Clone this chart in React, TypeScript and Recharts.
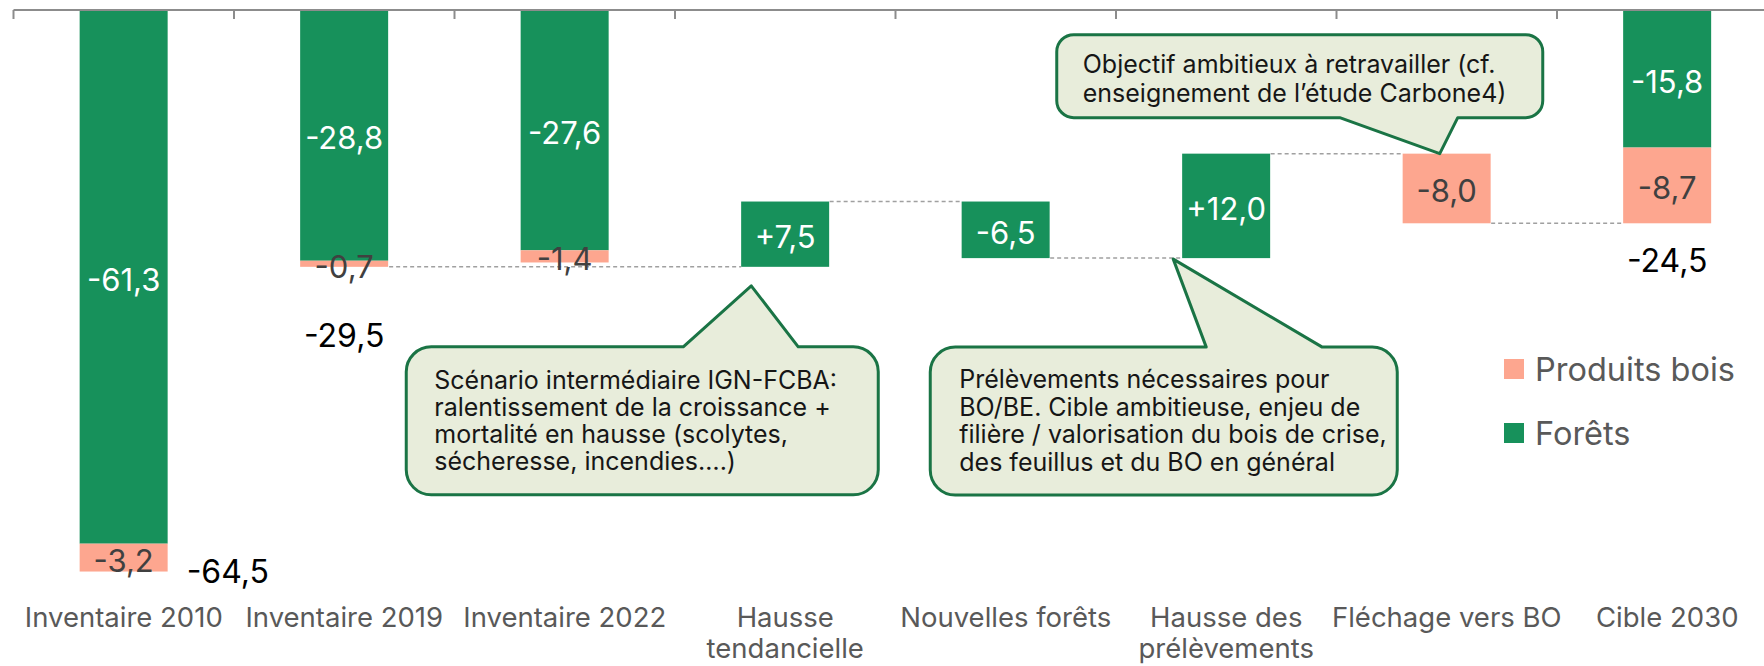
import React from 'react';
import { BarChart, Bar, XAxis, YAxis, LabelList, ReferenceDot, Legend } from 'recharts';

// ---------- DATA ----------
const categories = [
  'Inventaire 2010',
  'Inventaire 2019',
  'Inventaire 2022',
  'Hausse tendancielle',
  'Nouvelles forêts',
  'Hausse des prélèvements',
  'Fléchage vers BO',
  'Cible 2030',
];
const tickLabels = [
  ['Inventaire 2010'],
  ['Inventaire 2019'],
  ['Inventaire 2022'],
  ['Hausse', 'tendancielle'],
  ['Nouvelles forêts'],
  ['Hausse des', 'prélèvements'],
  ['Fléchage vers BO'],
  ['Cible 2030'],
];
// 'total' = column from zero, 'delta' = floating change
const kinds = ['total', 'total', 'total', 'delta', 'delta', 'delta', 'delta', 'total'];
const foretsValues: (number | null)[] = [-61.3, -28.8, -27.6, 7.5, -6.5, 12.0, null, -15.8];
const produitsValues: (number | null)[] = [-3.2, -0.7, -1.4, null, null, null, -8.0, -8.7];
const totalValues: (number | null)[] = [-64.5, -29.5, null, null, null, null, null, -24.5];
const waterfallStart = 'Inventaire 2019';

const calloutTexts = [
  {
    category: 'Hausse tendancielle',
    lines: [
      'Scénario intermédiaire IGN-FCBA:',
      'ralentissement de la croissance +',
      'mortalité en hausse (scolytes,',
      'sécheresse, incendies….)',
    ],
  },
  {
    category: 'Hausse des prélèvements',
    lines: [
      'Prélèvements nécessaires pour',
      'BO/BE. Cible ambitieuse, enjeu de',
      'filière / valorisation du bois de crise,',
      'des feuillus et du BO en général',
    ],
  },
  {
    category: 'Fléchage vers BO',
    lines: ['Objectif ambitieux à retravailler (cf.', 'enseignement de l’étude Carbone4)'],
  },
];

// ---------- STYLE ----------
const FONT = 'Inter, "Noto Sans", sans-serif';
const GREEN = '#17915B';
const PINK = '#FDA68F';
const AXIS_GRAY = '#8C8C8C';
const CALLOUT_STROKE = '#1A7445';
const CALLOUT_FILL = '#E8EDDB';
const BAR_GAP = 0.3;
const BAR_FRACTION = 1 - 2 * BAR_GAP;

const round1 = (v: number) => Math.round(v * 10) / 10;
const fmt = (v: number, signed: boolean) => {
  const s = Math.abs(v).toFixed(1).replace('.', ',');
  return v < 0 ? '-' + s : signed ? '+' + s : s;
};

// ---------- build waterfall table ----------
const startIdx = categories.indexOf(waterfallStart);
let running = round1((foretsValues[startIdx] ?? 0) + (produitsValues[startIdx] ?? 0));
let srcIdx = startIdx;
const chartData = categories.map((name, i) => {
  const f = foretsValues[i];
  const p = produitsValues[i];
  const t = totalValues[i];
  if (kinds[i] === 'total') {
    const hasConn = i > startIdx && srcIdx !== startIdx;
    return {
      name,
      idx: i,
      base: 0,
      forets: f ?? 0,
      produits: p ?? 0,
      foretsLabel: f != null ? fmt(f, false) : null,
      produitsLabel: p != null ? fmt(p, false) : null,
      totalLabel: t != null ? fmt(t, false) : null,
      from: 0,
      connFrom: hasConn ? srcIdx : null,
      connAt: 'bottom',
      connOwner: p != null ? 'produits' : 'forets',
    };
  }
  const delta = (f ?? 0) + (p ?? 0);
  const from = running;
  const to = round1(running + delta);
  const row = {
    name,
    idx: i,
    base: Math.max(from, to),
    forets: f != null ? -Math.abs(f) : 0,
    produits: p != null ? -Math.abs(p) : 0,
    foretsLabel: f != null ? fmt(f, true) : null,
    produitsLabel: p != null ? fmt(p, true) : null,
    totalLabel: null,
    from,
    connFrom: srcIdx as number | null,
    connAt: delta > 0 ? 'bottom' : 'top',
    connOwner: f != null ? 'forets' : 'produits',
  };
  running = to;
  srcIdx = i;
  return row;
});

// ---------- bar shape with dashed connector ----------
const makeBarShape = (series: string) => (props: any) => {
  const { x, y, width, height, payload, fill } = props;
  let top = Number(y);
  let h = Number(height);
  if (h < 0) {
    top = top + h;
    h = -h;
  }
  let conn = null;
  if (payload && payload.connOwner === series && payload.connFrom != null && h > 0) {
    const band = width / BAR_FRACTION;
    const levelY = payload.connAt === 'top' ? top : top + h;
    const x1 = x - (payload.idx - payload.connFrom) * band + width;
    conn = (
      <line x1={x1} x2={x} y1={levelY} y2={levelY} stroke="#A0A0A0" strokeWidth={1.5} strokeDasharray="4 3" />
    );
  }
  return (
    <g>
      {h > 0 && <rect x={x} y={top} width={width} height={h} fill={fill} />}
      {conn}
    </g>
  );
};

// ---------- label renderers ----------
const norm = (p: any) => {
  const vb = p.viewBox && p.viewBox.width != null ? p.viewBox : p;
  let x = Number(vb.x), y = Number(vb.y), width = Number(vb.width), height = Number(vb.height);
  if (height < 0) {
    y = y + height;
    height = -height;
  }
  return { x, y, width, height };
};

const segLabel = (color: string) => (props: any) => {
  const { value } = props;
  if (value == null || value === '') return null;
  const { x, y, width, height } = norm(props);
  return (
    <text x={x + width / 2} y={y + height / 2 + 14} textAnchor="middle" fill={color} fontSize={31} fontFamily={FONT}>
      {value}
    </text>
  );
};

const TOTAL_LABEL_PLACEMENT: Record<string, { side: 'right' | 'below'; gap: number }> = {
  'Inventaire 2010': { side: 'right', gap: 19 },
  'Inventaire 2019': { side: 'below', gap: 80 },
  'Cible 2030': { side: 'below', gap: 49 },
};

const totalLabel = (props: any) => {
  const { value } = props;
  if (value == null || value === '') return null;
  let idx = props.index;
  if (idx == null) idx = chartData.findIndex((d) => d.totalLabel === value);
  const place = TOTAL_LABEL_PLACEMENT[categories[idx]] ?? { side: 'below', gap: 50 };
  const { x, y, width, height } = norm(props);
  const bottom = y + height;
  if (place.side === 'right') {
    return (
      <text x={x + width + place.gap} y={bottom + 11} textAnchor="start" fill="#000" fontSize={32} fontFamily={FONT}>
        {value}
      </text>
    );
  }
  return (
    <text x={x + width / 2} y={bottom + place.gap} textAnchor="middle" fill="#000" fontSize={32} fontFamily={FONT}>
      {value}
    </text>
  );
};

const CategoryTick = (props: any) => {
  const { x, y, payload } = props;
  const idx = categories.indexOf(payload.value);
  const lines = tickLabels[idx] ?? [String(payload.value)];
  return (
    <g>
      {lines.map((l, k) => (
        <text key={k} x={x} y={y + 25 + k * 31} textAnchor="middle" fill="#595959" fontSize={27.5} fontFamily={FONT}>
          {l}
        </text>
      ))}
    </g>
  );
};

// tick marks on category boundaries (top axis)
const BoundaryTick = (props: any) => {
  const { x, y, payload, index } = props;
  const half = payload && payload.offset != null ? payload.offset : Number(props.width) / categories.length / 2;
  const last = index === categories.length - 1;
  return (
    <g>
      <line x1={x - half} x2={x - half} y1={y} y2={y + 9} stroke={AXIS_GRAY} strokeWidth={2} />
      {last && <line x1={x + half} x2={x + half} y1={y} y2={y + 9} stroke={AXIS_GRAY} strokeWidth={2} />}
    </g>
  );
};

// ---------- callouts ----------
type CalloutLayout = {
  l: number; r: number; t: number; b: number; rad: number;
  side: 'top' | 'bottom'; p1: number; p2: number; ax: number; ay: number;
  tx: number; ty: number; lh: number; fs: number;
};
const CALLOUT_LAYOUT: CalloutLayout[] = [
  { l: -379, r: 93, t: 80, b: 228, rad: 25, side: 'top', p1: -102, p2: 13, ax: -34, ay: 19, tx: 28, ty: 42, lh: 27, fs: 25 },
  { l: -296, r: 171, t: 89, b: 237, rad: 25, side: 'top', p1: -20, p2: 96, ax: -53, ay: 1, tx: 29, ty: 41, lh: 27.5, fs: 25 },
  { l: -390, r: 96, t: -119, b: -36, rad: 17, side: 'bottom', p1: -107, p2: 11, ax: -7, ay: 0, tx: 26, ty: 38, lh: 29, fs: 25 },
];

const calloutPath = (L: number, T: number, R: number, B: number, rad: number, side: string, px1: number, px2: number, ax: number, ay: number) => {
  let d = `M ${L + rad} ${T}`;
  if (side === 'top') d += ` L ${px1} ${T} L ${ax} ${ay} L ${px2} ${T}`;
  d += ` L ${R - rad} ${T} A ${rad} ${rad} 0 0 1 ${R} ${T + rad} L ${R} ${B - rad} A ${rad} ${rad} 0 0 1 ${R - rad} ${B}`;
  if (side === 'bottom') d += ` L ${px2} ${B} L ${ax} ${ay} L ${px1} ${B}`;
  d += ` L ${L + rad} ${B} A ${rad} ${rad} 0 0 1 ${L} ${B - rad} L ${L} ${T + rad} A ${rad} ${rad} 0 0 1 ${L + rad} ${T} Z`;
  return d;
};

const makeCalloutShape = (ci: number) => (props: any) => {
  const cx = Number(props.cx);
  const cy = Number(props.cy);
  const c = CALLOUT_LAYOUT[ci];
  const lines = calloutTexts[ci].lines;
  const L = cx + c.l, R = cx + c.r, T = cy + c.t, B = cy + c.b;
  return (
    <g>
      <path
        d={calloutPath(L, T, R, B, c.rad, c.side, cx + c.p1, cx + c.p2, cx + c.ax, cy + c.ay)}
        fill={CALLOUT_FILL}
        stroke={CALLOUT_STROKE}
        strokeWidth={3}
        strokeLinejoin="round"
      />
      {lines.map((ln, k) => (
        <text key={k} x={L + c.tx} y={T + c.ty + k * c.lh} fill="#161616" fontSize={c.fs} fontFamily={FONT}>
          {ln}
        </text>
      ))}
    </g>
  );
};

// ---------- legend ----------
const renderLegend = (props: any) => {
  const payload = (props.payload || []).filter((p: any) => p.type !== 'none' && p.value !== 'base').slice().reverse();
  return (
    <div style={{ fontFamily: FONT }}>
      {payload.map((p: any, k: number) => (
        <div key={k} style={{ display: 'flex', alignItems: 'center', height: 40, marginBottom: 24 }}>
          <div style={{ width: 20, height: 20, background: p.color, marginRight: 11 }} />
          <span style={{ fontSize: 32.5, color: '#595959', whiteSpace: 'nowrap' }}>{p.value}</span>
        </div>
      ))}
    </div>
  );
};

export default function App() {
  return (
    <div style={{ position: 'absolute', left: 0, top: 0, width: 1764, height: 666, overflow: 'hidden', background: '#fff' }}>
      <BarChart
        width={1780}
        height={666}
        data={chartData}
        margin={{ top: 0, right: 2.5, bottom: 0, left: 13.5 }}
        barCategoryGap={`${BAR_GAP * 100}%`}
        style={{ fontFamily: FONT }}
      >
        <XAxis
          xAxisId="top"
          orientation="top"
          dataKey="name"
          height={10}
          interval={0}
          tickSize={0}
          tickMargin={0}
          tickLine={false}
          axisLine={{ stroke: AXIS_GRAY, strokeWidth: 2 }}
          tick={<BoundaryTick />}
        />
        <XAxis
          dataKey="name"
          height={64}
          axisLine={false}
          tickLine={false}
          tickSize={0}
          tickMargin={0}
          interval={0}
          tick={<CategoryTick />}
        />
        <YAxis hide domain={[-68, 0]} allowDataOverflow />
        <Bar dataKey="base" stackId="w" fill="transparent" legendType="none" isAnimationActive={false} />
        <Bar dataKey="forets" name="Forêts" stackId="w" fill={GREEN} isAnimationActive={false} shape={makeBarShape('forets')}>
          <LabelList dataKey="foretsLabel" content={segLabel('#FFFFFF')} />
        </Bar>
        <Bar dataKey="produits" name="Produits bois" stackId="w" fill={PINK} isAnimationActive={false} shape={makeBarShape('produits')}>
          <LabelList dataKey="produitsLabel" content={segLabel('#404040')} />
          <LabelList dataKey="totalLabel" content={totalLabel} />
        </Bar>
        {calloutTexts.map((c, k) => {
          const row = chartData.find((d) => d.name === c.category)!;
          return (
            <ReferenceDot
              key={k}
              x={c.category}
              y={row.from}
              r={1}
              ifOverflow="visible"
              shape={makeCalloutShape(k)}
            />
          );
        })}
        <Legend
          layout="vertical"
          align="center"
          verticalAlign="middle"
          wrapperStyle={{ left: 1504, top: 349, width: 260, height: 110 }}
          content={renderLegend}
        />
      </BarChart>
    </div>
  );
}
